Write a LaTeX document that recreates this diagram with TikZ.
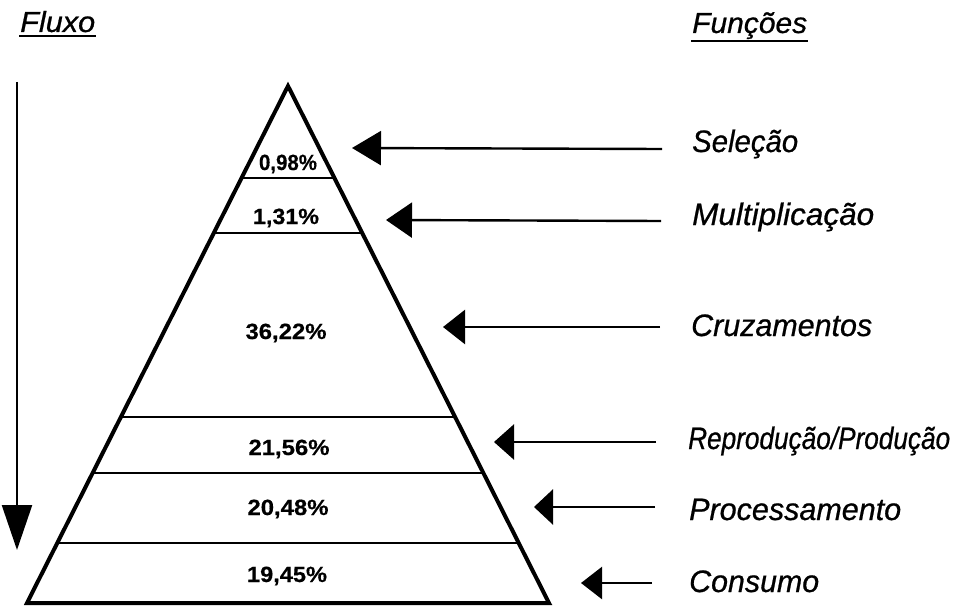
\documentclass[tikz,border=0pt]{standalone}
\usepackage{fontspec}
\setmainfont{Liberation Sans}
\newfontface\lblit{Liberation Sans Italic}[FakeBold=0.7]
\newfontface\pctbf{Liberation Sans Bold}[FakeBold=0.5]
\usetikzlibrary{arrows.meta,calc}
% stretch a label horizontally to a given width, keeping its height
\newcommand{\wfit}[2]{\resizebox{#1}{\height}{#2}}

\begin{document}
\begin{tikzpicture}[x=1pt,y=-1pt,
  pyr/.style={line width=4pt, line join=miter},
  tier/.style={line width=2.2pt},
  pct/.style={font=\fontsize{22}{26}\pctbf, inner sep=0pt, anchor=base},
  fn/.style={font=\fontsize{31}{36}\lblit, inner sep=0pt, anchor=base west},
  head/.style={font=\fontsize{29}{34}\lblit, inner sep=0pt, anchor=base west},
  uline/.style={line width=2pt},
  feed/.style={line width=2.4pt}
]
\useasboundingbox (0,0) rectangle (954,610);

% column headings
\node[head] (fluxo) at (20,32) {\wfit{75pt}{Fluxo}};
\draw[uline] ($(fluxo.base west)+(-1,4)$) -- ($(fluxo.base east)+(1,4)$);
\node[head] (funcoes) at (692,33) {\wfit{115pt}{Funções}};
\draw[uline] ($(funcoes.base west)+(-1,8)$) -- ($(funcoes.base east)+(1,8)$);

% downward flow arrow
\coordinate (ftop) at (17,82);
\coordinate (fend) at (17,550);
\draw[feed, -{Triangle[length=45pt,width=30pt]}] (ftop) -- (fend);

% pyramid outline
\coordinate (apex) at (288,86);
\coordinate (bl) at (27,603);
\coordinate (br) at (549,603);
\draw[pyr] (bl) -- (apex) -- (br) -- cycle;

% tier boundaries
\foreach \t in {0.1780,0.2843,0.6402,0.7485,0.8839}
  \draw[tier] ($(apex)!\t!(bl)$) -- ($(apex)!\t!(br)$);

% tier shares
\node[pct] (p1) at (288,170) {\wfit{58pt}{0,98\%}};
\node[pct] (p2) at (286,224) {\wfit{66pt}{1,31\%}};
\node[pct] (p3) at (286,339) {\wfit{81pt}{36,22\%}};
\node[pct] (p4) at (289,455) {\wfit{81pt}{21,56\%}};
\node[pct] (p5) at (288,515) {\wfit{81pt}{20,48\%}};
\node[pct] (p6) at (287,582) {\wfit{80pt}{19,45\%}};

% functions
\node[fn] (f1) at (692,152) {\wfit{106pt}{Seleção}};
\node[fn] (f2) at (692,225) {\wfit{182pt}{Multiplicação}};
\node[fn] (f3) at (691,336) {\wfit{181pt}{Cruzamentos}};
\node[fn] (f4) at (688,449) {\wfit{262pt}{Reprodução/Produção}};
\node[fn] (f5) at (689,520) {\wfit{212pt}{Processamento}};
\node[fn] (f6) at (689,592) {\wfit{130pt}{Consumo}};

% pointers from each function to its tier
\coordinate (s1) at (662,149); \coordinate (t1) at (352,148);
\coordinate (s2) at (661,221); \coordinate (t2) at (386,220);
\coordinate (s3) at (660,327); \coordinate (t3) at (443,327);
\coordinate (s4) at (656,442); \coordinate (t4) at (494,442);
\coordinate (s5) at (655,507); \coordinate (t5) at (534,507);
\coordinate (s6) at (652,583); \coordinate (t6) at (581,583);
\draw[feed, -{Triangle[length=29pt,width=34pt]}] (s1) -- (t1);
\draw[feed, -{Triangle[length=26pt,width=35pt]}] (s2) -- (t2);
\draw[feed, -{Triangle[length=22pt,width=34pt]}] (s3) -- (t3);
\draw[feed, -{Triangle[length=20pt,width=35pt]}] (s4) -- (t4);
\draw[feed, -{Triangle[length=19pt,width=35pt]}] (s5) -- (t5);
\draw[feed, -{Triangle[length=21pt,width=32pt]}] (s6) -- (t6);
\end{tikzpicture}
\end{document}
